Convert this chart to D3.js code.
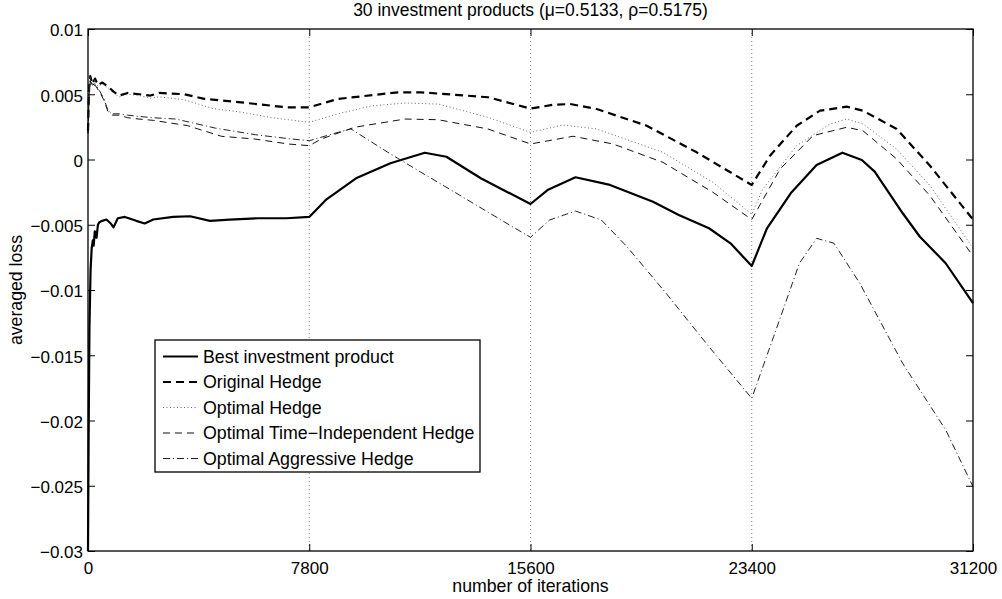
<!DOCTYPE html>
<html>
<head>
<meta charset="utf-8">
<script src="https://cdn.jsdelivr.net/npm/d3@7"></script>
<style>
  html, body { margin: 0; padding: 0; background: #fff; }
  svg { display: block; }
  text { font-family: "Liberation Sans", Arial, Helvetica, sans-serif; fill: #000; }
</style>
</head>
<body>
<svg id="chart" width="1002" height="599"></svg>
<script>
// ---------------- data ----------------
const titleText = "30 investment products (\u03BC=0.5133, \u03C1=0.5175)";
const xLabel = "number of iterations";
const yLabel = "averaged loss";
const xTicks = [0, 7800, 15600, 23400, 31200];
const yTicks = [0.01, 0.005, 0, -0.005, -0.01, -0.015, -0.02, -0.025, -0.03];
const yTickLabels = ["0.01", "0.005", "0", "\u22120.005", "\u22120.01", "\u22120.015", "\u22120.02", "\u22120.025", "\u22120.03"];
const gridX = [7800, 15600, 23400];
const seriesNames = ["Best investment product", "Original Hedge", "Optimal Hedge", "Optimal Time\u2212Independent Hedge", "Optimal Aggressive Hedge"];

const bestIter = [0, 20, 50, 90, 130, 170, 200, 240, 300, 350, 400, 500, 650, 800, 900, 1050, 1300, 1700, 2000, 2300, 3000, 3600, 4300, 5000, 6000, 7000, 7800,
  8383, 9448, 10661, 11873, 12635, 13848, 15600, 16200, 17186, 18403, 19919, 20828, 21893, 22651, 23400, 23937, 24773, 25686, 26596, 27280, 27734, 28722, 29328, 30237, 31200];
const bestLoss = [-0.030, -0.022, -0.013, -0.0085, -0.0068, -0.0062, -0.0066, -0.0055, -0.0060, -0.0050, -0.0048, -0.0047, -0.0046, -0.0049, -0.0052, -0.0045, -0.0044, -0.0047, -0.0049, -0.0046, -0.0044, -0.00435, -0.0047, -0.0046, -0.0045, -0.0045, -0.0044,
  -0.0031, -0.00144, -0.00029, 0.00052, 0.00021, -0.00144, -0.00341, -0.00234, -0.00136, -0.00195, -0.00323, -0.00425, -0.00527, -0.00642, -0.00816, -0.00527, -0.00259, -0.00042, 0.00052, -0.00004, -0.00093, -0.00412, -0.00592, -0.00795, -0.0110];

const origIter = [0, 40, 80, 150, 250, 350, 500, 700, 900, 1100, 1400, 1800, 2200, 2500, 3400, 4100, 5300, 7000, 7800,
  8814, 10929, 11740, 14102, 15600, 16400, 17000, 17934, 19697, 21459, 23400, 24043, 24984, 25806, 26747, 27322, 28510, 29684, 31200];
const origLoss = [0.0022, 0.0055, 0.0064, 0.0058, 0.0062, 0.0057, 0.0059, 0.0056, 0.0052, 0.0049, 0.0051, 0.0050, 0.0049, 0.0051, 0.0050, 0.00465, 0.0044, 0.0040, 0.0040,
  0.00464, 0.00515, 0.00515, 0.00477, 0.0039, 0.0042, 0.00425, 0.00387, 0.00259, 0.00055, -0.00195, 0.00029, 0.00259, 0.00374, 0.00405, 0.00374, 0.00234, -0.00048, -0.0046];

const optIter = [0, 40, 80, 150, 250, 350, 500, 700, 900, 1100, 1400, 1800, 2200, 2500, 3400, 4400, 5300, 6500, 7800,
  8814, 9980, 11175, 12350, 14102, 15600, 16750, 17934, 20270, 22030, 23400, 23790, 24984, 26158, 26747, 27322, 28510, 29684, 31200];
const optLoss = [0.0022, 0.0055, 0.0063, 0.0057, 0.0061, 0.0056, 0.0058, 0.0055, 0.0051, 0.0048, 0.0050, 0.0049, 0.0047, 0.0048, 0.00458, 0.0039, 0.00366, 0.0032, 0.00285,
  0.0035, 0.0041, 0.00433, 0.00425, 0.00323, 0.00208, 0.00264, 0.00234, 0.00055, -0.00175, -0.0042, -0.00226, 0.00106, 0.00272, 0.0031, 0.00272, 0.0008, -0.0020, -0.0068];

const tiIter = [0, 40, 80, 150, 250, 400, 550, 700, 850, 1100, 1400, 1800, 2300, 3500, 4700, 5870, 7050, 7800,
  8220, 9400, 11170, 12340, 14100, 15600, 17100, 18510, 20270, 22030, 23400, 24400, 25560, 26750, 27320, 28510, 29680, 31200];
const tiLoss = [0.0020, 0.0050, 0.0060, 0.0056, 0.0057, 0.0052, 0.0046, 0.0037, 0.0034, 0.0034, 0.0032, 0.0031, 0.0030, 0.0026, 0.00178, 0.00157, 0.00119, 0.00106,
  0.00157, 0.00247, 0.0031, 0.00305, 0.00234, 0.00119, 0.00178, 0.00119, -0.00022, -0.00251, -0.0046, -0.00073, 0.00183, 0.00247, 0.0022, 0.00004, -0.00277, -0.0074];

const aggIter = [0, 40, 80, 150, 250, 400, 550, 700, 850, 1100, 1400, 1800, 2300, 3100, 4500, 5900, 7050, 7800,
  8814, 9270, 10570, 11740, 12930, 14690, 15600, 16270, 17186, 18100, 19000, 20380, 21890, 23400, 24170, 25080, 25690, 26300, 27210, 28720, 30240, 31200];
const aggLoss = [0.0020, 0.0052, 0.0061, 0.0057, 0.0058, 0.0053, 0.0047, 0.0038, 0.0035, 0.0035, 0.0034, 0.0033, 0.0032, 0.0031, 0.0024, 0.0019, 0.0016, 0.00144,
  0.00208, 0.00234, 0.00055, -0.00098, -0.00251, -0.0048, -0.00596, -0.00464, -0.00395, -0.00464, -0.00668, -0.01025, -0.01434, -0.0183, -0.01358, -0.00795, -0.00604, -0.00642, -0.00949, -0.01562, -0.02073, -0.02507];

// ---------------- layout ----------------
const m = { left: 88, right: 973, top: 29, bottom: 551 };
const svg = d3.select("#chart");

const x = d3.scaleLinear().domain([0, 31200]).range([m.left, m.right]);
const y = d3.scaleLinear().domain([-0.03, 0.01]).range([m.bottom, m.top]);

// vertical dotted grid lines
svg.append("g").selectAll("line").data(gridX).join("line")
  .attr("x1", d => x(d)).attr("x2", d => x(d))
  .attr("y1", m.top).attr("y2", m.bottom)
  .attr("stroke", "#888").attr("stroke-width", 1).attr("stroke-dasharray", "1,3");

// series
const series = [
  { it: bestIter, v: bestLoss, color: "#000", w: 2.2, dash: null },
  { it: origIter, v: origLoss, color: "#000", w: 2.2, dash: "8,5" },
  { it: optIter, v: optLoss, color: "#666", w: 1, dash: "1,2.5" },
  { it: tiIter, v: tiLoss, color: "#111", w: 1, dash: "7,5" },
  { it: aggIter, v: aggLoss, color: "#222", w: 1, dash: "7,3,1,3" }
];
const line = d3.line().x(d => x(d[0])).y(d => y(d[1]));
const plot = svg.append("g");
series.forEach(s => {
  plot.append("path")
    .datum(s.it.map((d, i) => [d, s.v[i]]))
    .attr("d", line)
    .attr("fill", "none")
    .attr("stroke", s.color)
    .attr("stroke-width", s.w)
    .attr("stroke-linejoin", "round")
    .attr("stroke-dasharray", s.dash);
});

// axes box
svg.append("rect")
  .attr("x", m.left).attr("y", m.top)
  .attr("width", m.right - m.left).attr("height", m.bottom - m.top)
  .attr("fill", "none").attr("stroke", "#000").attr("stroke-width", 1.3);

// ticks (inward, all four sides)
const tl = 7;
const axB = d3.axisBottom(x).tickValues(xTicks).tickSizeInner(-tl).tickSizeOuter(0).tickPadding(0).tickFormat(d3.format("d"));
const gB = svg.append("g").attr("transform", `translate(0,${m.bottom})`).call(axB);
gB.selectAll("text").attr("y", 22.5).attr("dy", null);
const axT = d3.axisTop(x).tickValues(xTicks).tickSizeInner(-tl).tickSizeOuter(0).tickFormat("");
const gT = svg.append("g").attr("transform", `translate(0,${m.top})`).call(axT);
const axL = d3.axisLeft(y).tickValues(yTicks).tickSizeInner(-tl).tickSizeOuter(0).tickPadding(0)
  .tickFormat((d, i) => yTickLabels[i]);
const gL = svg.append("g").attr("transform", `translate(${m.left},0)`).call(axL);
gL.selectAll("text").attr("x", -5).attr("dy", "0.4em");
const axR = d3.axisRight(y).tickValues(yTicks).tickSizeInner(-tl).tickSizeOuter(0).tickFormat("");
const gR = svg.append("g").attr("transform", `translate(${m.right},0)`).call(axR);
[gB, gT, gL, gR].forEach(g => {
  g.select(".domain").remove();
  g.selectAll(".tick line").attr("stroke", "#000").attr("stroke-width", 1);
  g.selectAll("text").attr("font-size", 17).attr("font-family", "Liberation Sans, Arial, sans-serif").attr("fill", "#000");
});

// titles
svg.append("text").attr("x", (m.left + m.right) / 2).attr("y", 15.5)
  .attr("text-anchor", "middle").attr("font-size", 17.5).text(titleText);
svg.append("text").attr("x", (m.left + m.right) / 2).attr("y", 591.5)
  .attr("text-anchor", "middle").attr("font-size", 17.7).text(xLabel);
svg.append("text").attr("transform", `translate(22,${(m.top + m.bottom) / 2}) rotate(-90)`)
  .attr("text-anchor", "middle").attr("font-size", 17.7).text(yLabel);

// legend
const lg = svg.append("g");
const lx = 155, ly = 340, lw = 325, lh = 132, rowH = 25.5;
lg.append("rect").attr("x", lx).attr("y", ly).attr("width", lw).attr("height", lh)
  .attr("fill", "#fff").attr("stroke", "#000").attr("stroke-width", 1.3);
series.forEach((s, i) => {
  const cy = ly + 16.5 + i * rowH;
  lg.append("line").attr("x1", lx + 8).attr("x2", lx + 43).attr("y1", cy).attr("y2", cy)
    .attr("stroke", s.color).attr("stroke-width", s.w).attr("stroke-dasharray", s.dash);
  lg.append("text").attr("x", lx + 48).attr("y", cy + 6).attr("font-size", 17.8).text(seriesNames[i]);
});
</script>
</body>
</html>
